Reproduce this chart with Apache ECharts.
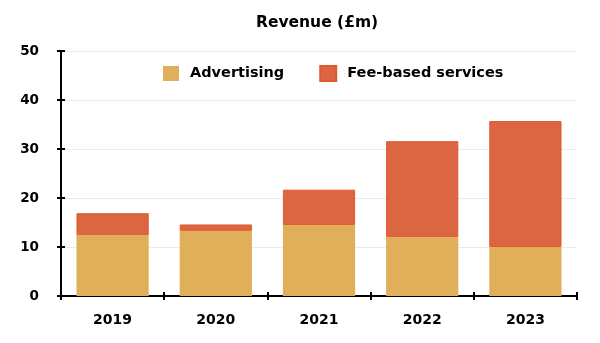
<!DOCTYPE html>
<html>
<head>
<meta charset="utf-8">
<script src="https://cdn.jsdelivr.net/npm/echarts@6/dist/echarts.min.js"></script>
<style>html,body{margin:0;padding:0;background:#fff}#c{width:600px;height:343px}</style>
</head>
<body>
<div id="c"></div>
<script>
const categories = ['2019', '2020', '2021', '2022', '2023'];
const advertising = [12.4, 13.3, 14.5, 12.0, 10.0];
const feeBased = [4.5, 1.3, 7.2, 19.6, 25.7];
const yTicks = [0, 10, 20, 30, 40, 50];

const font = 'DejaVu Sans, Verdana, sans-serif';
const black = '#000';
const chart = echarts.init(document.getElementById('c'));
const yMin = yTicks[0], yMax = yTicks[yTicks.length - 1];
chart.setOption({
  animation: false,
  backgroundColor: '#fff',
  title: {
    text: 'Revenue (£m)', left: 251, top: 10, itemGap: 0,
    textStyle: { fontFamily: font, fontWeight: 'bold', fontSize: 15.5, color: black }
  },
  legend: {
    left: 158, top: 60, itemWidth: 16, itemHeight: 15, itemGap: 35, icon: 'rect',
    textStyle: { fontFamily: font, fontWeight: 'bold', fontSize: 14.5, color: black, padding: [0, 0, 0, 6] },
    data: ['Advertising', 'Fee-based services']
  },
  grid: { left: 61, right: 23, top: 51, bottom: 47, containLabel: false },
  xAxis: [{
    type: 'category', data: categories,
    axisLine: { lineStyle: { color: black, width: 2 } },
    axisTick: { show: true, length: 4, lineStyle: { color: black, width: 2 } },
    axisLabel: { fontFamily: font, fontWeight: 'bold', fontSize: 14, color: black, margin: 17 }
  }, {
    type: 'category', data: categories, position: 'bottom',
    axisLine: { show: false },
    axisTick: { show: true, inside: true, length: 4, lineStyle: { color: black, width: 2 } },
    axisLabel: { show: false }, splitLine: { show: false }
  }],
  yAxis: [{
    type: 'value', min: yMin, max: yMax, interval: 10,
    axisLine: { show: true, lineStyle: { color: black, width: 2 } },
    axisTick: { show: true, length: 4, lineStyle: { color: black, width: 2 } },
    axisLabel: { fontFamily: font, fontWeight: 'bold', fontSize: 13.5, color: black, margin: 22 },
    splitLine: { show: true, lineStyle: { color: '#ebebeb', width: 1 } }
  }, {
    type: 'value', min: yMin, max: yMax, interval: 10, position: 'left',
    axisLine: { show: false },
    axisTick: { show: true, inside: true, length: 4, lineStyle: { color: black, width: 2 } },
    axisLabel: { show: false }, splitLine: { show: false }
  }],
  series: [
    { name: 'Advertising', type: 'bar', stack: 'rev', data: advertising, barWidth: '70%',
      itemStyle: { color: '#E0AF5A' } },
    { name: 'Fee-based services', type: 'bar', stack: 'rev', data: feeBased, barWidth: '70%',
      itemStyle: { color: '#DD6642', borderColor: '#E05A30', borderWidth: 1 } }
  ]
});
</script>
</body>
</html>
